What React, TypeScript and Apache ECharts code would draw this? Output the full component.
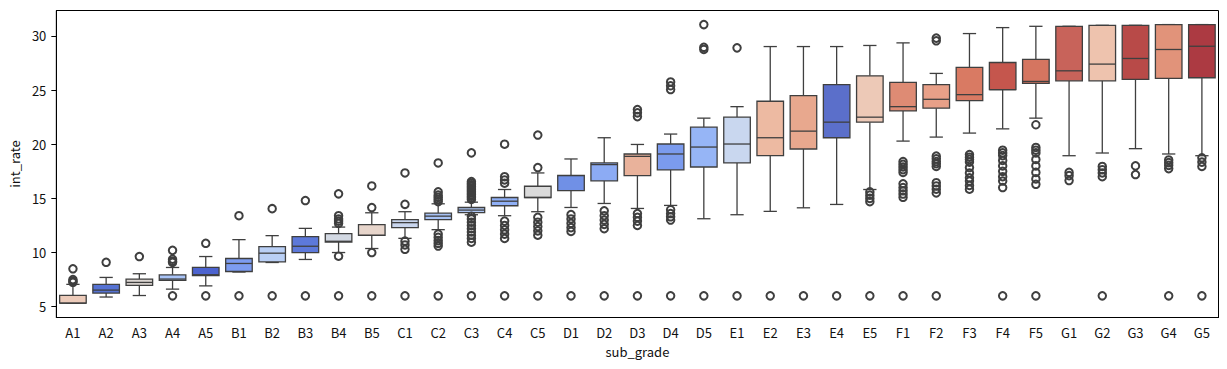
import React, { useEffect, useRef } from "react";
import * as echarts from "echarts";

const categories = [
  "A1","A2","A3","A4","A5","B1","B2","B3","B4","B5",
  "C1","C2","C3","C4","C5","D1","D2","D3","D4","D5",
  "E1","E2","E3","E4","E5","F1","F2","F3","F4","F5",
  "G1","G2","G3","G4","G5",
];

const whiskerLow = [
  5.32, 5.89, 6.03, 6.62, 6.92, 8.2, 9.08, 9.36, 10.0, 10.37,
  11.31, 12.11, 13.49, 13.4, 13.77, 14.16, 14.53, 14.07, 14.35, 13.12,
  13.49, 13.8, 14.13, 14.44, 15.82, 20.29, 20.66, 21.03, 21.42, 22.41,
  18.94, 19.19, 19.59, 19.1, 18.94,
];
const q1 = [
  5.32, 6.26, 6.97, 7.42, 7.88, 8.25, 9.14, 10.0, 10.97, 11.59,
  12.3, 13.03, 13.68, 14.32, 15.08, 15.72, 16.62, 17.1, 17.63, 17.9,
  18.27, 18.94, 19.56, 20.6, 22.04, 23.08, 23.33, 24.03, 25.04, 25.62,
  25.86, 25.86, 25.99, 26.08, 26.14,
];
const median = [
  5.32, 6.53, 7.24, 7.55, 7.95, 8.99, 9.94, 10.58, 11.04, 11.59,
  12.76, 13.36, 13.92, 14.74, 15.08, 17.1, 18.12, 18.88, 19.1, 19.74,
  20.02, 20.6, 21.21, 22.04, 22.5, 23.47, 24.15, 24.58, 25.04, 25.8,
  26.78, 27.4, 27.92, 28.75, 29.05,
];
const q3 = [
  6.05, 7.06, 7.55, 7.94, 8.62, 9.45, 10.55, 11.47, 11.75, 12.57,
  13.03, 13.64, 14.16, 15.08, 16.12, 17.13, 18.27, 19.1, 20.02, 21.58,
  22.5, 23.97, 24.49, 25.5, 26.32, 25.72, 25.5, 27.1, 27.55, 27.83,
  30.89, 30.98, 30.98, 31.05, 31.05,
];
const whiskerHigh = [
  7.06, 7.7, 8.04, 8.62, 9.63, 11.19, 11.56, 12.23, 12.35, 13.67,
  13.77, 14.5, 14.65, 15.82, 17.35, 18.64, 20.6, 19.98, 20.94, 22.41,
  23.47, 29.02, 29.02, 29.02, 29.12, 29.36, 26.54, 30.22, 30.77, 30.89,
  30.89, 30.98, 30.98, 31.05, 31.05,
];

const outliers: number[][] = [
  [8.5, 7.5, 7.35, 7.25],
  [9.1],
  [9.63],
  [10.2, 9.38, 9.2, 9.1, 6.0],
  [10.85, 6.0],
  [13.4, 6.0],
  [14.05, 6.0],
  [14.8, 6.0],
  [15.42, 13.4, 13.1, 12.9, 12.7, 9.66, 6.0],
  [16.15, 14.15, 10.0, 6.0],
  [17.35, 14.45, 11.05, 10.7, 10.3, 6.0],
  [18.27, 15.6, 15.3, 15.1, 14.9, 14.7, 11.7, 11.4, 11.1, 10.85, 10.6, 6.0],
  [19.2, 16.55, 16.4, 16.25, 16.1, 15.95, 15.8, 15.65, 15.5, 15.35, 15.2, 15.05, 14.9,
   13.35, 13.1, 12.8, 12.5, 12.2, 11.9, 11.6, 11.3, 10.95, 6.0],
  [20.0, 17.0, 16.7, 16.4, 12.9, 12.5, 12.1, 11.7, 11.3, 6.0],
  [20.85, 17.85, 13.25, 12.8, 12.4, 12.0, 11.6, 6.0],
  [13.5, 13.1, 12.7, 12.3, 11.95, 6.0],
  [13.85, 13.4, 13.0, 12.6, 12.2, 6.0],
  [23.2, 22.9, 22.55, 13.6, 13.25, 12.9, 12.5, 6.0],
  [25.75, 25.4, 25.05, 13.95, 13.6, 13.3, 13.0, 6.0],
  [31.05, 28.95, 28.75, 6.0],
  [28.9, 6.0],
  [6.0],
  [6.0],
  [6.0],
  [15.6, 15.3, 15.0, 14.7, 6.0],
  [18.4, 18.15, 17.9, 17.65, 17.4, 16.35, 16.0, 15.7, 15.4, 15.1, 6.0],
  [29.8, 29.55, 18.9, 18.65, 18.4, 18.2, 17.95, 16.45, 16.15, 15.85, 15.5, 6.0],
  [19.05, 18.8, 18.6, 18.35, 17.85, 17.35, 16.9, 16.6, 16.2, 15.85],
  [19.45, 19.2, 18.95, 18.5, 18.0, 17.5, 17.0, 16.6, 16.0, 6.0],
  [21.8, 19.7, 19.45, 19.2, 18.6, 18.0, 17.4, 16.8, 16.3, 6.0],
  [17.4, 17.1, 16.65],
  [17.95, 17.65, 17.35, 17.0, 6.0],
  [18.0, 17.2],
  [18.55, 18.3, 18.05, 17.75, 6.0],
  [18.75, 18.35, 17.95, 6.0],
];

const boxColors = [
  "#eccbba", "#5572d3", "#dcd6d2", "#a9c4f8", "#4c63cf",
  "#7d9cf0", "#b9cff5", "#5d79da", "#d3d9e3", "#e7d5cb",
  "#c9d6ee", "#a8c3f6", "#afc8f6", "#90b0f6", "#dadada",
  "#7090e6", "#8cabf4", "#e9b29b", "#7b9bee", "#96b5f6",
  "#c9d7ef", "#edbaa2", "#e8a88e", "#5b6fca", "#edc9b7",
  "#de8b74", "#e8a088", "#d97a63", "#c5564d", "#d57560",
  "#c8635a", "#eec3ae", "#b84a48", "#e1937a", "#ac3a42",
];

const yTicks = [5, 10, 15, 20, 25, 30];

const FONT = "'Noto Sans CJK KR', 'Noto Sans', sans-serif";
const LINE = "#3f3f3f";

export default function App() {
  const ref = useRef<HTMLDivElement>(null);
  useEffect(() => {
    const chart = echarts.init(ref.current!, null, { renderer: "svg" });
    const boxData = categories.map((_, i) => [
      i, whiskerLow[i], q1[i], median[i], q3[i], whiskerHigh[i],
    ]);
    const outlierData: number[][] = [];
    outliers.forEach((arr, i) => arr.forEach((v) => outlierData.push([i, v])));

    chart.setOption({
      animation: false,
      textStyle: { fontFamily: FONT },
      grid: {
        left: 55.5, right: 8.5, top: 10.5, bottom: 51.5,
        show: true, borderColor: "#000", borderWidth: 1, backgroundColor: "transparent",
      },
      xAxis: {
        type: "category",
        data: categories,
        boundaryGap: true,
        name: "sub_grade",
        nameLocation: "middle",
        nameGap: 27,
        nameTextStyle: { color: "#111", fontSize: 13, fontFamily: FONT },
        axisLine: { lineStyle: { color: "#000", width: 1 } },
        axisTick: { alignWithLabel: true, length: 5, lineStyle: { color: "#000" } },
        axisLabel: { color: "#111", fontSize: 13, margin: 8, fontFamily: FONT, interval: 0 },
        splitLine: { show: false },
      },
      yAxis: {
        type: "value",
        min: 4.0,
        max: 32.35,
        name: "int_rate",
        nameLocation: "middle",
        nameRotate: 90,
        nameGap: 31,
        nameTextStyle: { color: "#111", fontSize: 13, fontFamily: FONT },
        axisLine: { show: true, lineStyle: { color: "#000", width: 1 } },
        axisTick: { show: true, length: 5, lineStyle: { color: "#000" }, customValues: yTicks },
        axisLabel: { color: "#111", fontSize: 13, margin: 10, fontFamily: FONT, customValues: yTicks },
        splitLine: { show: false },
      },
      series: [
        {
          type: "custom",
          data: boxData,
          encode: { x: 0, y: [1, 2, 3, 4, 5] },
          z: 2,
          renderItem: (params: any, api: any) => {
            const idx = api.value(0);
            const lo = api.coord([idx, api.value(1)]);
            const b1 = api.coord([idx, api.value(2)]);
            const md = api.coord([idx, api.value(3)]);
            const b3 = api.coord([idx, api.value(4)]);
            const hi = api.coord([idx, api.value(5)]);
            const band = api.size([1, 0])[0];
            const bw = band * 0.8;
            const cw = bw * 0.5;
            const x = lo[0];
            const ls = { stroke: LINE, lineWidth: 1.3 };
            return {
              type: "group",
              children: [
                { type: "line", shape: { x1: x, y1: hi[1], x2: x, y2: b3[1] }, style: ls },
                { type: "line", shape: { x1: x, y1: b1[1], x2: x, y2: lo[1] }, style: ls },
                { type: "line", shape: { x1: x - cw / 2, y1: hi[1], x2: x + cw / 2, y2: hi[1] }, style: ls },
                { type: "line", shape: { x1: x - cw / 2, y1: lo[1], x2: x + cw / 2, y2: lo[1] }, style: ls },
                {
                  type: "rect",
                  shape: { x: x - bw / 2, y: b3[1], width: bw, height: b1[1] - b3[1] },
                  style: { fill: boxColors[params.dataIndex], stroke: LINE, lineWidth: 1.3 },
                },
                { type: "line", shape: { x1: x - bw / 2, y1: md[1], x2: x + bw / 2, y2: md[1] }, style: ls },
              ],
            };
          },
        },
        {
          type: "scatter",
          data: outlierData,
          symbol: "circle",
          symbolSize: 7.5,
          z: 3,
          itemStyle: { color: "rgba(0,0,0,0)", borderColor: LINE, borderWidth: 2, opacity: 1 },
        },
      ],
    });
    return () => chart.dispose();
  }, []);
  return (
    <div
      ref={ref}
      style={{ position: "fixed", left: 0, top: 0, width: 1227, height: 369, background: "#fff" }}
    />
  );
}
